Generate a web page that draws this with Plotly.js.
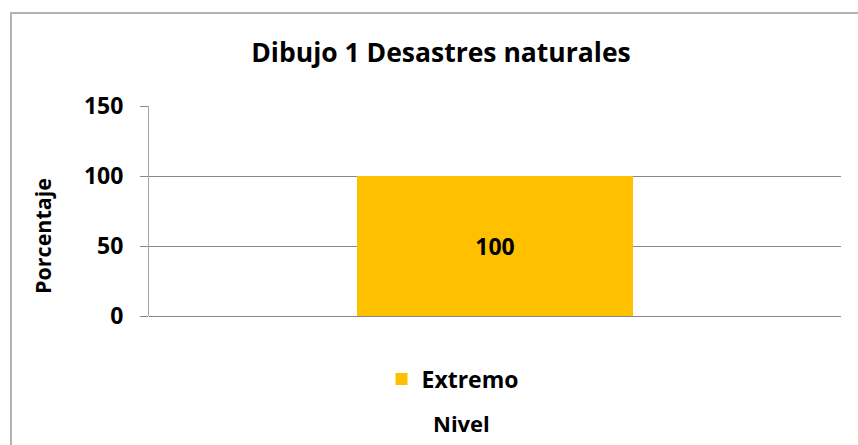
<!DOCTYPE html>
<html>
<head>
<meta charset="utf-8">
<script src="https://cdn.plot.ly/plotly-3.0.1.min.js"></script>
<style>
  html, body { margin: 0; padding: 0; overflow: hidden; background: #fff; }
  #chart { width: 858px; height: 445px; }
  #frame {
    position: absolute; left: 10px; top: 12px; width: 870px; height: 460px;
    border: 2px solid #b3b3b3; pointer-events: none;
  }
</style>
</head>
<body>
<div id="chart"></div>
<div id="frame"></div>
<script>
// chart data
const categories = ["Extremo"];
const values = [100];
const valueLabels = ["100"];
const yTicks = [0, 50, 100, 150];

const FONT = "'Open Sans', Lato, sans-serif";

function drawChart() {
  const barTrace = {
    type: "bar",
    x: categories,
    y: values,
    name: "Extremo",
    width: 0.4,
    marker: { color: "#FFC000" },
    text: valueLabels,
    textposition: "inside",
    insidetextanchor: "middle",
    textfont: { family: FONT, size: 23, color: "#000", weight: 700 },
    hoverinfo: "none",
  };

  const layout = {
    width: 858,
    height: 445,
    margin: { l: 149, r: 17, t: 106, b: 129 },
    paper_bgcolor: "#fff",
    plot_bgcolor: "#fff",
    font: { family: FONT, color: "#000" },
    title: {
      text: "<b>Dibujo 1 Desastres naturales</b>",
      font: { family: FONT, size: 26.5, color: "#000" },
      xref: "container",
      x: 441 / 858,
      xanchor: "center",
      yref: "container",
      y: 1 - 53 / 445,
      yanchor: "middle",
    },
    showlegend: true,
    legend: {
      orientation: "h",
      x: 0.336,
      xanchor: "left",
      y: -0.3,
      yanchor: "middle",
      font: { family: FONT, size: 23, color: "#000", weight: 700 },
      bgcolor: "rgba(0,0,0,0)",
    },
    xaxis: {
      type: "category",
      showticklabels: false,
      showgrid: false,
      showline: false,
      zeroline: false,
      ticks: "",
    },
    yaxis: {
      range: [0, 150],
      tickvals: yTicks,
      ticktext: yTicks.map(String),
      tickfont: { family: FONT, size: 23, color: "#000", weight: 700 },
      ticklabelstandoff: 12,
      showgrid: true,
      gridcolor: "#888888",
      gridwidth: 1,
      zeroline: true,
      zerolinecolor: "#888888",
      zerolinewidth: 1,
      showline: true,
      linecolor: "#a6a6a6",
      linewidth: 1,
      ticks: "outside",
      ticklen: 8,
      tickcolor: "#888888",
    },
    annotations: [
      {
        text: "<b>Porcentaje</b>",
        xref: "paper",
        yref: "paper",
        x: (42 - 149) / 692,
        y: (316 - 236) / 210,
        xanchor: "center",
        yanchor: "middle",
        textangle: -90,
        showarrow: false,
        font: { family: FONT, size: 21.5, color: "#000" },
      },
      {
        text: "<b>Nivel</b>",
        xref: "paper",
        yref: "paper",
        x: (461 - 149) / 692,
        y: (316 - 423) / 210,
        xanchor: "center",
        yanchor: "middle",
        showarrow: false,
        font: { family: FONT, size: 22, color: "#000" },
      },
    ],
    bargap: 0,
  };

  Plotly.newPlot("chart", [barTrace], layout, { displayModeBar: false, staticPlot: true });
}

drawChart();
</script>
</body>
</html>
